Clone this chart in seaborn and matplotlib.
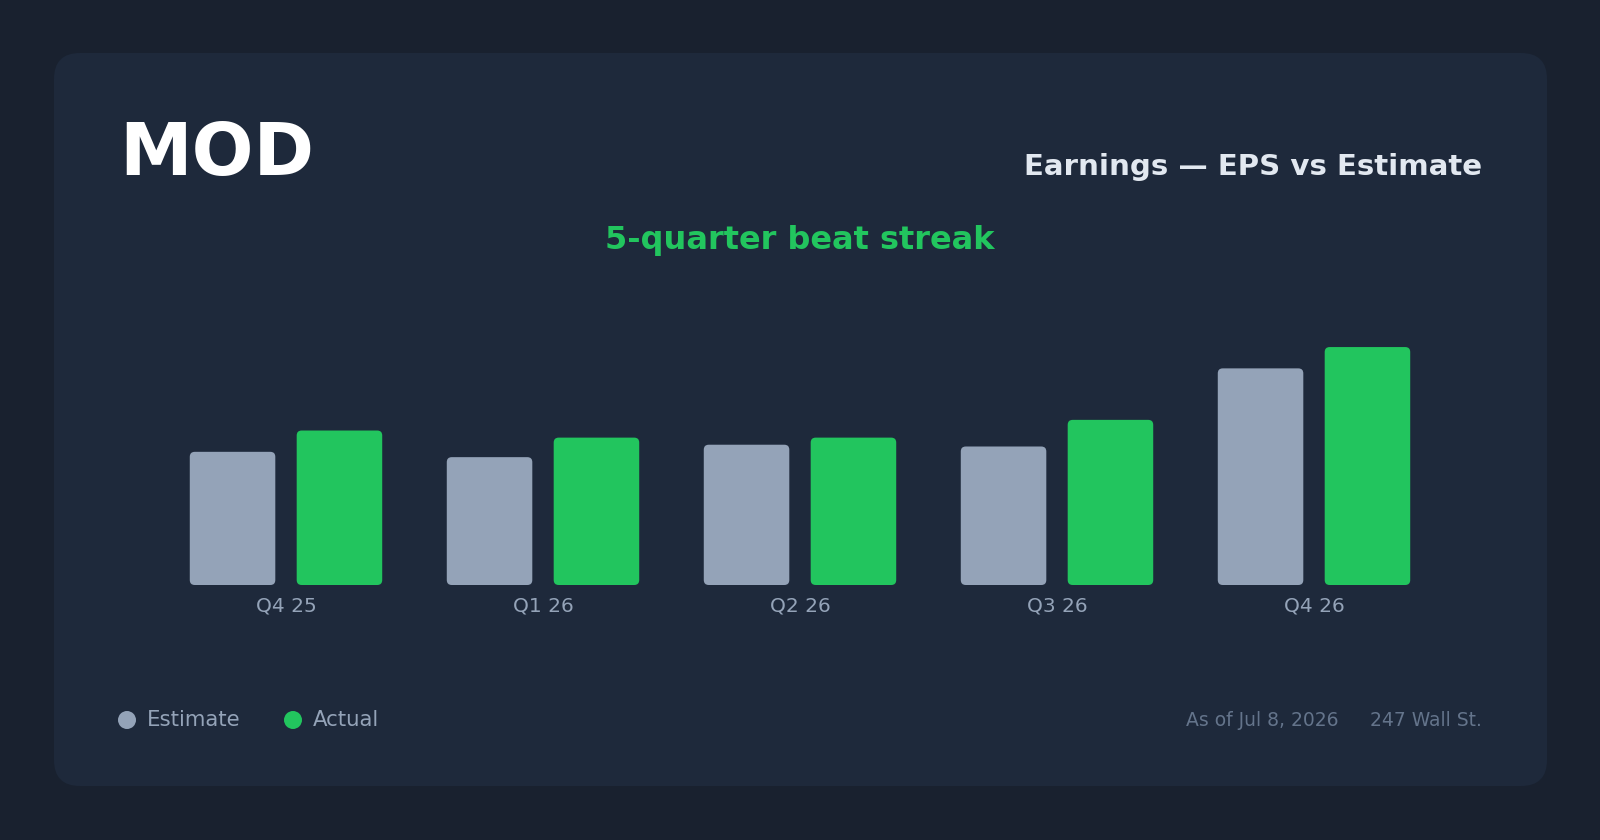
import pandas as pd
import numpy as np
import matplotlib.pyplot as plt
import seaborn as sns
from matplotlib.patches import FancyBboxPatch, Circle

quarters = ["Q4 25", "Q1 26", "Q2 26", "Q3 26", "Q4 26"]
estimate = [0.75, 0.72, 0.79, 0.78, 1.22]
actual = [0.87, 0.83, 0.83, 0.93, 1.34]
series = ["Estimate", "Actual"]

outer_bg = "#19212f"
card_bg = "#1e293b"
est_color = "#94a3b8"
act_color = "#22c55e"

df = pd.DataFrame({
    "quarter": quarters * 2,
    "eps": estimate + actual,
    "series": [series[0]] * len(quarters) + [series[1]] * len(quarters),
})

sns.set_theme(style="white")
plt.rcParams["font.family"] = ["DejaVu Sans"]

W, H = 1600, 840
fig = plt.figure(figsize=(16, 8.4), dpi=100, facecolor=outer_bg)

# background layer in pixel coords
bg = fig.add_axes([0, 0, 1, 1])
bg.set_xlim(0, W)
bg.set_ylim(H, 0)
bg.axis("off")
bg.set_facecolor(outer_bg)
bg.add_patch(FancyBboxPatch((54, 53), 1493, 733,
                            boxstyle="round,pad=0,rounding_size=26",
                            facecolor=card_bg, edgecolor="none"))

bg.text(119, 154, "MOD", fontsize=52.5, fontweight="bold", color="white",
        ha="left", va="center")
bg.text(1482, 167, "Earnings — EPS vs Estimate", fontsize=21.1, fontweight="bold",
        color="#e2e8f0", ha="right", va="center")
bg.text(800, 240, "5-quarter beat streak", fontsize=23, fontweight="bold",
        color=act_color, ha="center", va="center")

# legend
bg.add_patch(Circle((127, 720), 9, facecolor=est_color, edgecolor="none"))
bg.text(147, 720, "Estimate", fontsize=15.3, color=est_color, ha="left", va="center")
bg.add_patch(Circle((293, 720), 9, facecolor=act_color, edgecolor="none"))
bg.text(313, 720, "Actual", fontsize=15.3, color=est_color, ha="left", va="center")

# footer
bg.text(1339, 720, "As of Jul 8, 2026", fontsize=13.5, color="#64748b",
        ha="right", va="center")
bg.text(1482, 720, "247 Wall St.", fontsize=13.5, color="#64748b",
        ha="right", va="center")

# chart
base_y, top_y = 585, 300
x0, x1 = 157.5, 1442.5
ax = fig.add_axes([x0 / W, (H - base_y) / H, (x1 - x0) / W, (base_y - top_y) / H])
ax.patch.set_alpha(0)

sns.barplot(data=df, x="quarter", y="eps", hue="series",
            palette=[est_color, act_color], saturation=1, width=0.832, gap=0.2,
            legend=False, ax=ax)

ymax = 1.605
ax.set_xlim(-0.5, len(quarters) - 0.5)
ax.set_ylim(0, ymax)

# round bar corners
px_x = (x1 - x0) / len(quarters)   # pixels per x unit
px_y = (base_y - top_y) / ymax     # pixels per y unit
r = 5
for p in list(ax.patches):
    bx, by = p.get_x(), p.get_y()
    bw, bh = p.get_width(), p.get_height()
    fc = p.get_facecolor()
    p.remove()
    ax.add_patch(FancyBboxPatch((bx, by), bw, bh,
                                boxstyle=f"round,pad=0,rounding_size={r / px_x}",
                                mutation_aspect=px_x / px_y,
                                facecolor=fc, edgecolor="none"))

ax.set_xlabel("")
ax.set_ylabel("")
ax.set_yticks([])
ax.tick_params(axis="x", length=0, pad=8, labelsize=14.5, labelcolor=est_color)
sns.despine(ax=ax, left=True, bottom=True)

fig.savefig("out.png", dpi=100, facecolor=outer_bg)
